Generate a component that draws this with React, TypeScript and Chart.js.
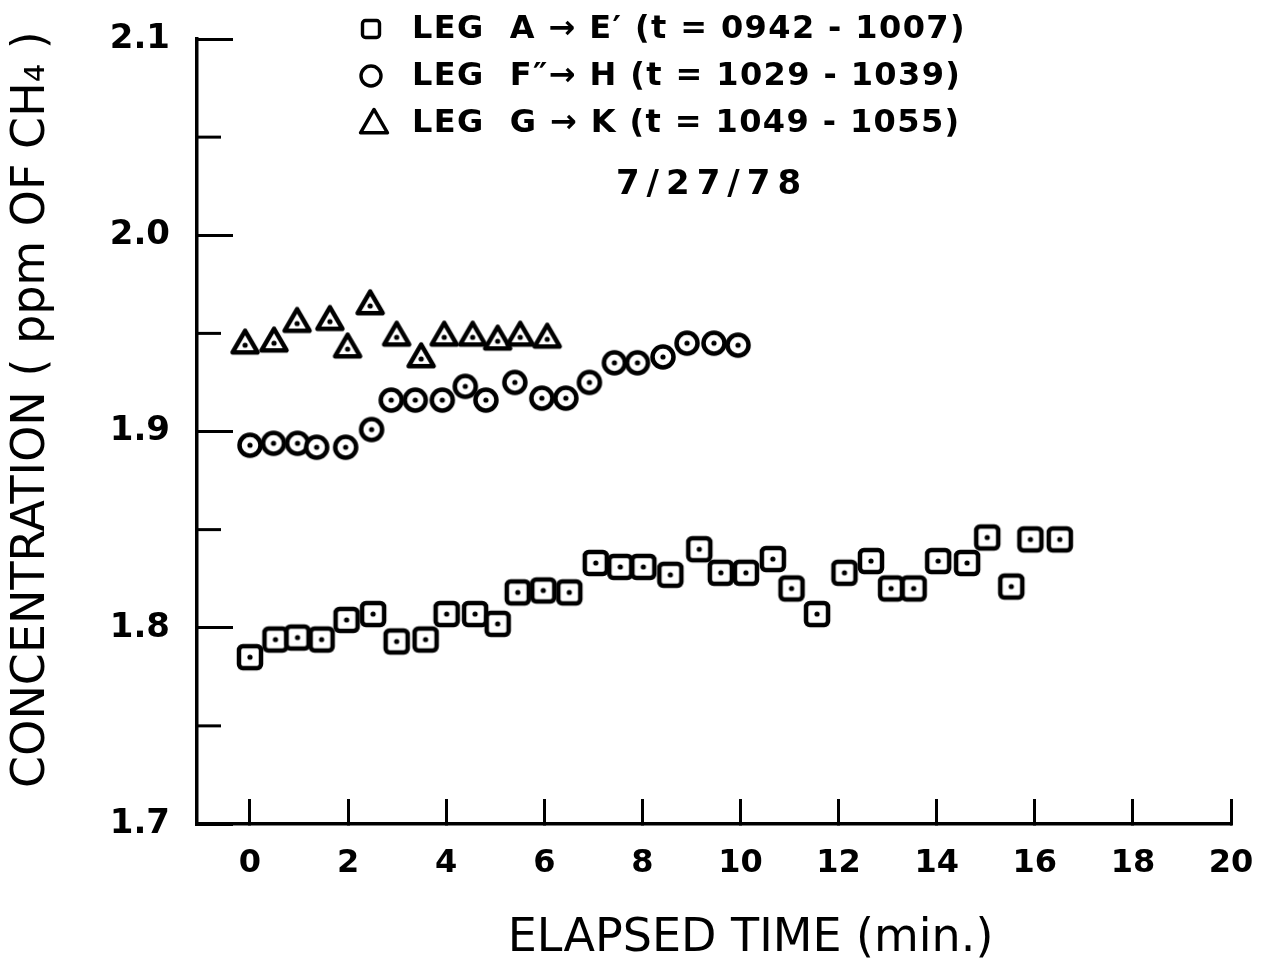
import React, { useEffect, useRef } from "react";
import { Chart, registerables } from "chart.js";

Chart.register(...registerables);

const FONT = "'DejaVu Sans', sans-serif";

// Axis ranges and ticks
const X_MIN = -1.08;
const X_MAX = 20;
const X_TICKS = [0, 2, 4, 6, 8, 10, 12, 14, 16, 18, 20];
const Y_MIN = 1.7;
const Y_MAX = 2.1;
const Y_MAJOR = [1.7, 1.8, 1.9, 2.0, 2.1];
const Y_MINOR = [1.75, 1.85, 1.95, 2.05];

// Texts
const X_TITLE = "ELAPSED TIME (min.)";
const Y_TITLE = "CONCENTRATION ( ppm OF CH\u2084 )";
const DATE_LABEL = "7/27/78";
const LABEL_A = "LEG  A \u2192 E\u2032 (t = 0942 - 1007)";
const LABEL_F = "LEG  F\u2033\u2192 H (t = 1029 - 1039)";
const LABEL_G = "LEG  G \u2192 K (t = 1049 - 1055)";

// Leg A -> E' (squares)
const legAX = [0.0, 0.52, 0.97, 1.46, 1.97, 2.51, 2.99, 3.58, 4.01, 4.59, 5.05, 5.46, 5.98, 6.51, 7.05, 7.55, 8.02, 8.57, 9.16, 9.6, 10.11, 10.66, 11.04, 11.56, 12.12, 12.66, 13.07, 13.53, 14.03, 14.62, 15.03, 15.52, 15.91, 16.51];
const legAY = [1.785, 1.794, 1.795, 1.794, 1.804, 1.807, 1.793, 1.794, 1.807, 1.807, 1.802, 1.818, 1.819, 1.818, 1.833, 1.831, 1.831, 1.827, 1.84, 1.828, 1.828, 1.835, 1.82, 1.807, 1.828, 1.834, 1.82, 1.82, 1.834, 1.833, 1.846, 1.821, 1.845, 1.845];

// Leg F'' -> H (circles)
const legFX = [0.0, 0.48, 0.97, 1.36, 1.95, 2.48, 2.88, 3.37, 3.92, 4.39, 4.81, 5.4, 5.95, 6.44, 6.92, 7.43, 7.9, 8.42, 8.91, 9.46, 9.95];
const legFY = [1.893, 1.894, 1.894, 1.892, 1.892, 1.901, 1.916, 1.916, 1.916, 1.923, 1.916, 1.925, 1.917, 1.917, 1.925, 1.935, 1.935, 1.938, 1.945, 1.945, 1.944];

// Leg G -> K (triangles)
const legGX = [-0.1, 0.49, 0.96, 1.63, 1.99, 2.45, 2.99, 3.49, 3.96, 4.54, 5.05, 5.51, 6.06];
const legGY = [1.944, 1.945, 1.955, 1.956, 1.942, 1.964, 1.948, 1.937, 1.948, 1.948, 1.946, 1.948, 1.947];

type Shape = "square" | "circle" | "triangle";

function shapePath(g: CanvasRenderingContext2D, shape: Shape, cx: number, cy: number, size: number) {
  g.beginPath();
  if (shape === "square") {
    const s = size;
    if ((g as any).roundRect) (g as any).roundRect(cx - s / 2, cy - s / 2, s, s, s * 0.18);
    else g.rect(cx - s / 2, cy - s / 2, s, s);
  } else if (shape === "circle") {
    g.arc(cx, cy, size / 2, 0, Math.PI * 2);
  } else {
    const h = size * 0.866;
    g.moveTo(cx, cy - (2 * h) / 3);
    g.lineTo(cx + size / 2, cy + h / 3);
    g.lineTo(cx - size / 2, cy + h / 3);
    g.closePath();
  }
}

function makeMarker(shape: Shape): HTMLCanvasElement {
  const c = document.createElement("canvas");
  const dim = 36;
  c.width = dim;
  c.height = dim;
  const g = c.getContext("2d")!;
  g.strokeStyle = "#000";
  g.fillStyle = "#fff";
  g.lineWidth = 4.5;
  g.lineJoin = "round";
  const m = dim / 2;
  const size = shape === "square" ? 22 : shape === "circle" ? 21 : 25;
  shapePath(g, shape, m, m, size);
  g.fill();
  g.stroke();
  g.beginPath();
  g.fillStyle = "#000";
  g.arc(m, m, 2.6, 0, Math.PI * 2);
  g.fill();
  return c;
}

const isMajor = (v: number) => Math.abs(v * 10 - Math.round(v * 10)) < 1e-6;

const overlayPlugin = {
  id: "paperOverlay",
  afterDraw(chart: any) {
    const ctx: CanvasRenderingContext2D = chart.ctx;
    const area = chart.chartArea;
    const ys = chart.scales.y;
    ctx.save();
    // minor y tick marks (inward)
    ctx.strokeStyle = "#000";
    ctx.lineWidth = 3;
    Y_MINOR.forEach((v) => {
      const py = ys.getPixelForValue(v);
      ctx.beginPath();
      ctx.moveTo(area.left, py);
      ctx.lineTo(area.left + 24, py);
      ctx.stroke();
    });
    // legend
    const markerX = 371;
    const textX = 412;
    const rowY = [29, 76, 123];
    ctx.fillStyle = "#000";
    ctx.textBaseline = "middle";
    ctx.textAlign = "left";
    ctx.font = `bold 32px ${FONT}`;
    (ctx as any).letterSpacing = "1.4px";
    chart.data.datasets.forEach((ds: any, i: number) => {
      const y = rowY[i];
      ctx.lineWidth = 3.4;
      ctx.lineJoin = "round";
      const shape: Shape = ds.legendShape;
      const sz = shape === "square" ? 17 : shape === "circle" ? 20 : 27;
      shapePath(ctx, shape, markerX + (shape === "triangle" ? 3 : 0), y + (shape === "triangle" ? 2 : 0), sz);
      ctx.stroke();
      ctx.fillText(ds.label, textX, y + 1);
    });
    // date
    ctx.textAlign = "center";
    ctx.font = `bold 34px ${FONT}`;
    (ctx as any).letterSpacing = "7px";
    ctx.fillText(DATE_LABEL, 712, 185);
    (ctx as any).letterSpacing = "0px";
    ctx.restore();
  },
};

export default function App() {
  const canvasRef = useRef<HTMLCanvasElement | null>(null);

  useEffect(() => {
    if (!canvasRef.current) return;
    const sq = makeMarker("square");
    const ci = makeMarker("circle");
    const tr = makeMarker("triangle");
    const chart = new Chart(canvasRef.current, {
      type: "scatter",
      data: {
        datasets: [
          {
            label: LABEL_A,
            data: legAX.map((x, i) => ({ x, y: legAY[i] })),
            pointStyle: sq,
            pointRadius: 12,
            showLine: false,
            legendShape: "square",
          } as any,
          {
            label: LABEL_F,
            data: legFX.map((x, i) => ({ x, y: legFY[i] })),
            pointStyle: ci,
            pointRadius: 12,
            showLine: false,
            legendShape: "circle",
          } as any,
          {
            label: LABEL_G,
            data: legGX.map((x, i) => ({ x, y: legGY[i] })),
            pointStyle: tr,
            pointRadius: 12,
            showLine: false,
            legendShape: "triangle",
          } as any,
        ],
      },
      options: {
        responsive: true,
        maintainAspectRatio: false,
        animation: false,
        clip: false,
        layout: { padding: { top: 39, right: 36, left: 0, bottom: 0 } },
        plugins: {
          legend: { display: false },
          tooltip: { enabled: false },
          title: { display: false },
        },
        scales: {
          x: {
            type: "linear",
            min: X_MIN,
            max: X_MAX,
            afterBuildTicks: (s: any) => {
              s.ticks = X_TICKS.map((v) => ({ value: v }));
            },
            afterFit: (s: any) => {
              s.height = 134;
              s.paddingLeft = 0;
              s.paddingRight = 0;
            },
            border: { display: true, color: "#000", width: 3.5 },
            grid: {
              drawOnChartArea: false,
              drawTicks: true,
              tickLength: -25,
              tickWidth: 3,
              tickColor: "#000",
            },
            ticks: {
              color: "#000",
              font: { family: FONT, size: 32, weight: "bold" },
              padding: 45,
              maxRotation: 0,
              autoSkip: false,
              callback: (v: any) => String(v),
            },
            title: {
              display: true,
              text: "     " + X_TITLE,
              color: "#000",
              font: { family: FONT, size: 46, lineHeight: 0.8 },
              padding: { top: 0, bottom: 1 },
            },
          },
          y: {
            type: "linear",
            min: Y_MIN,
            max: Y_MAX,
            afterBuildTicks: (s: any) => {
              s.ticks = Y_MAJOR.map((v) => ({ value: v }));
            },
            afterFit: (s: any) => {
              s.width = 197;
              s.paddingTop = 0;
              s.paddingBottom = 0;
            },
            border: { display: true, color: "#000", width: 3.5 },
            grid: {
              drawOnChartArea: false,
              drawTicks: true,
              tickLength: -36,
              tickWidth: 3,
              tickColor: "#000",
            },
            ticks: {
              color: "#000",
              font: { family: FONT, size: 34, weight: "bold" },
              padding: 63,
              autoSkip: false,
              callback: (v: any) => (isMajor(Number(v)) ? Number(v).toFixed(1) : ""),
            },
            title: {
              display: true,
              text: "   " + Y_TITLE,
              color: "#000",
              font: { family: FONT, size: 46 },
              padding: { top: 4, bottom: 0 },
            },
          },
        },
      },
      plugins: [overlayPlugin],
    } as any);
    return () => chart.destroy();
  }, []);

  return (
    <div style={{ position: "absolute", left: 0, top: 0, width: 1267, height: 958, background: "#fff" }}>
      <canvas ref={canvasRef} style={{ display: "block" }} />
    </div>
  );
}
